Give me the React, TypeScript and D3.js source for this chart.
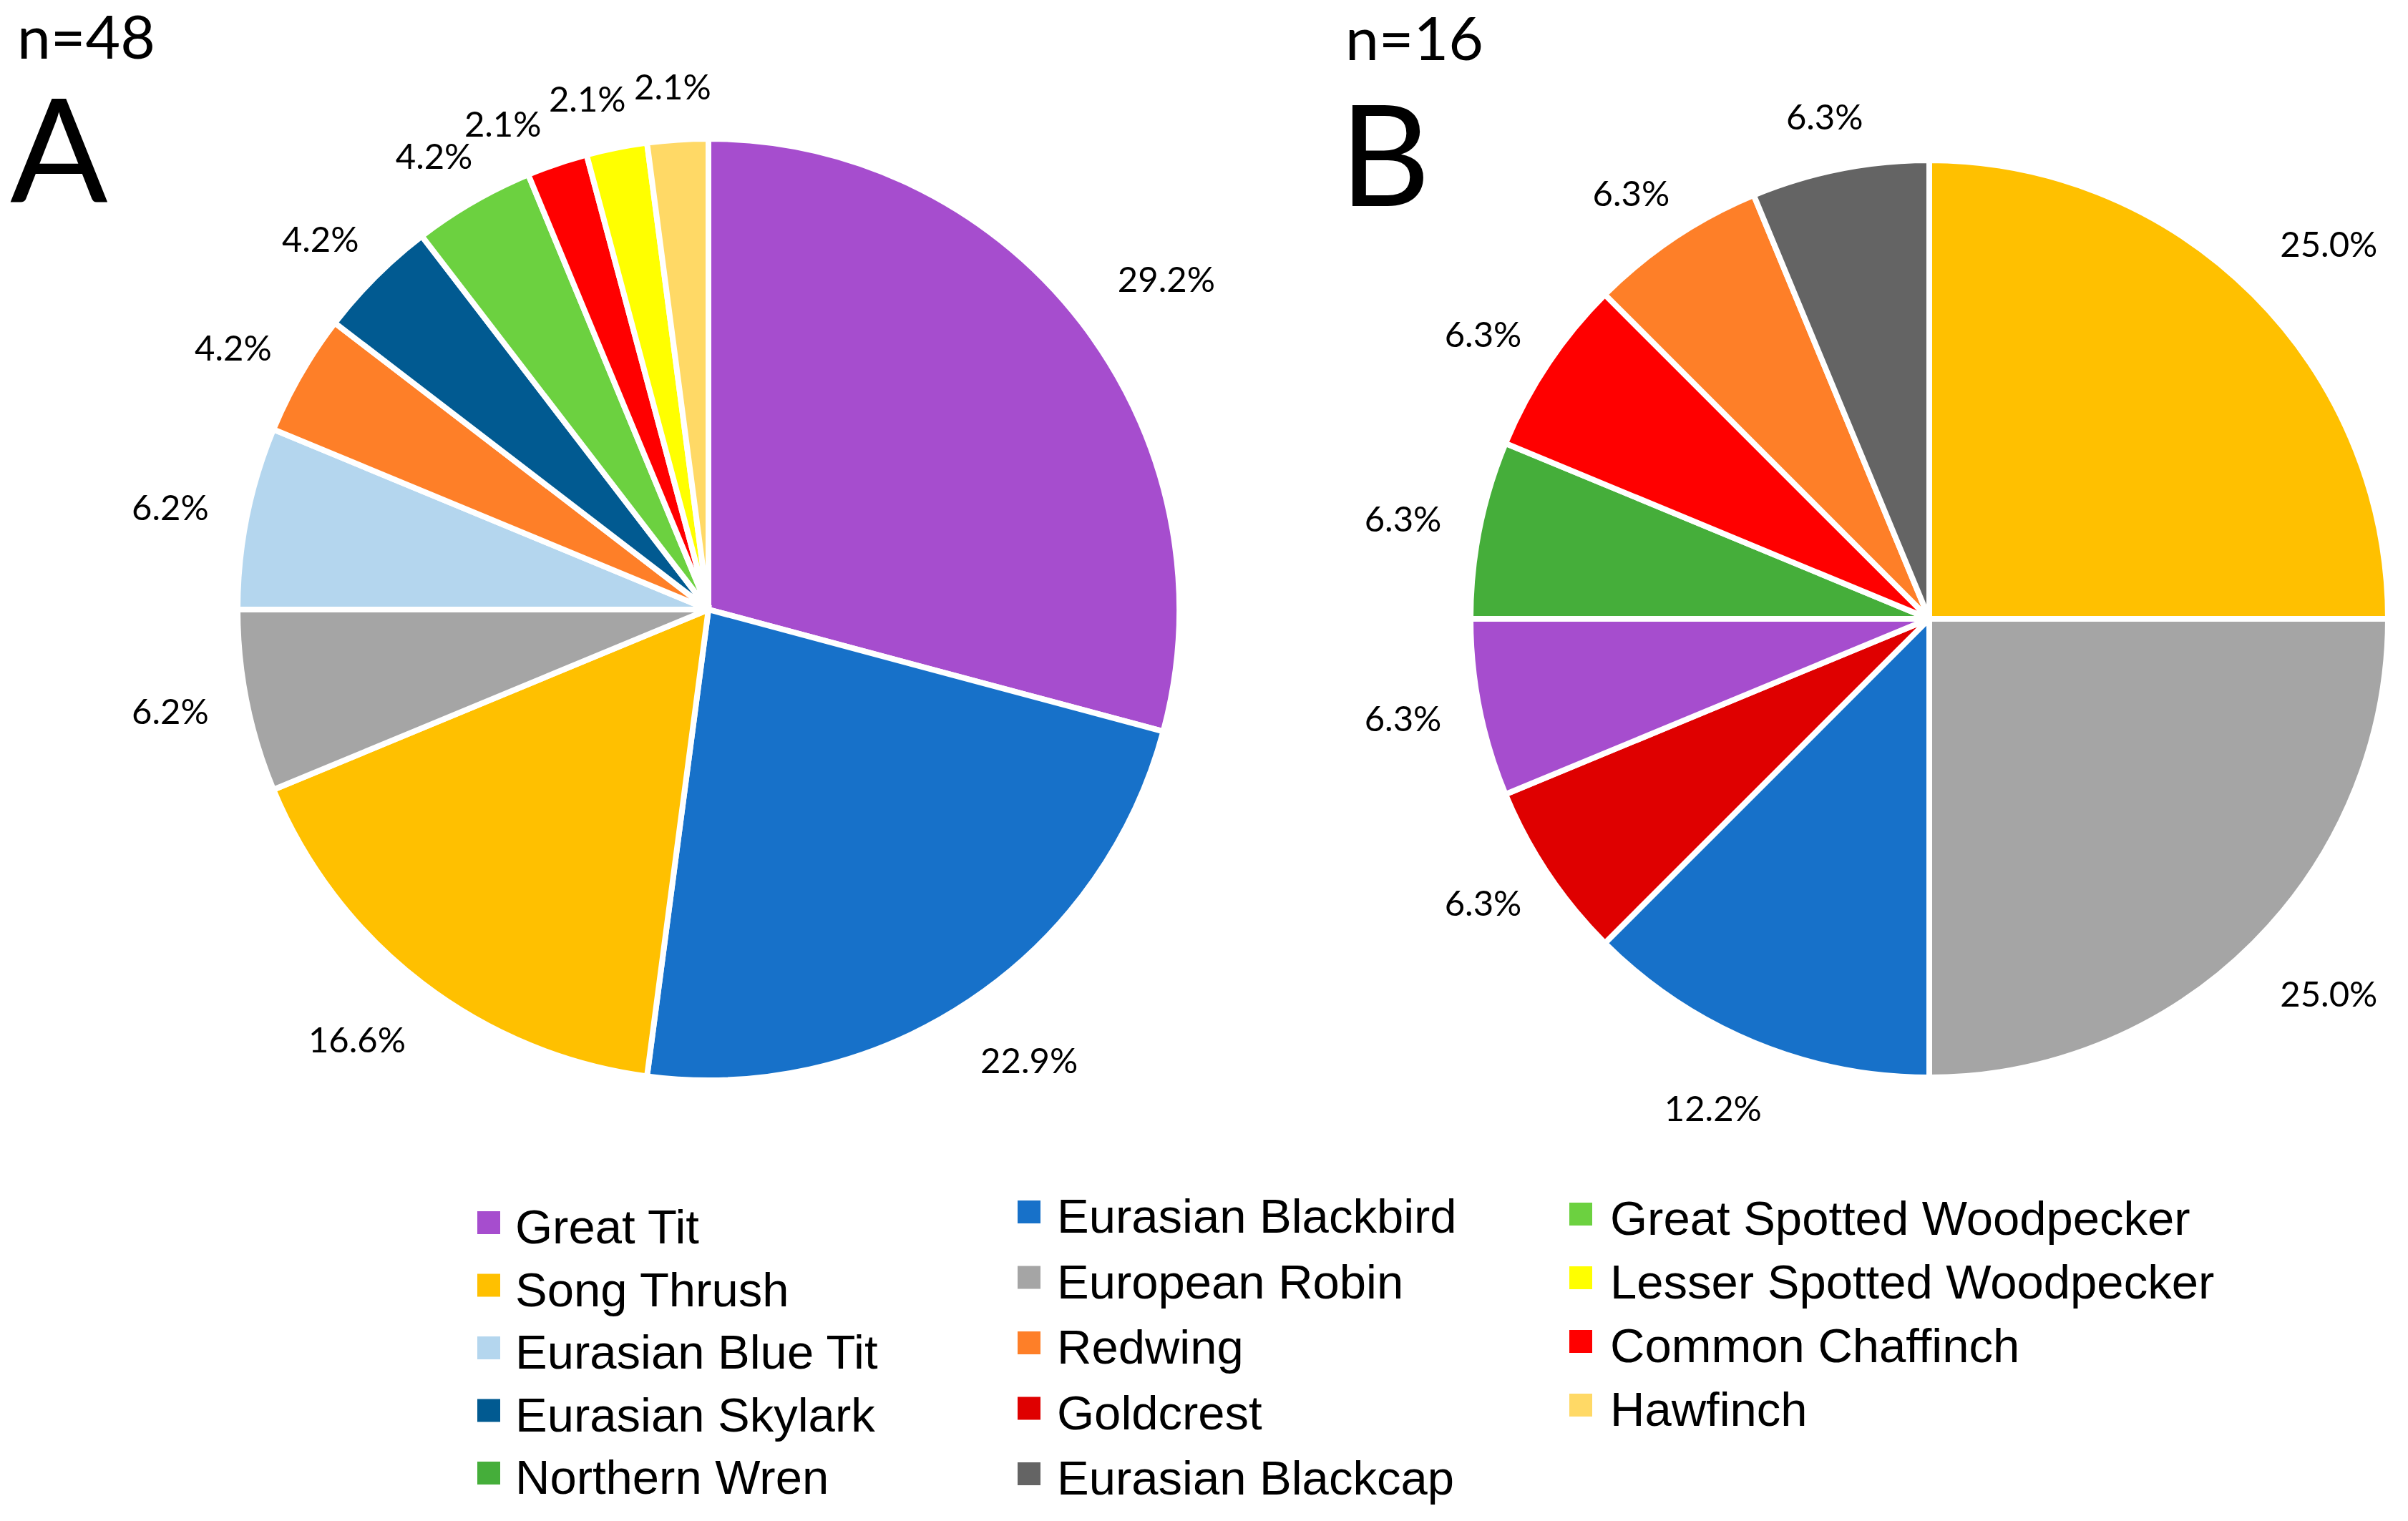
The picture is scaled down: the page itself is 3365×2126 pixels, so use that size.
import React from "react";
import * as d3 from "d3";

// ---- Data ----
const speciesColors: Record<string, string> = {
  "Great Tit": "#A64DCE",
  "Eurasian Blackbird": "#1771C9",
  "Song Thrush": "#FFC000",
  "European Robin": "#A5A5A5",
  "Eurasian Blue Tit": "#B4D6EE",
  "Redwing": "#FE7F28",
  "Eurasian Skylark": "#015A91",
  "Great Spotted Woodpecker": "#6CD140",
  "Common Chaffinch": "#FF0000",
  "Lesser Spotted Woodpecker": "#FFFF00",
  "Hawfinch": "#FFD966",
  "Goldcrest": "#DF0000",
  "Northern Wren": "#45AE3A",
  "Eurasian Blackcap": "#646464",
};

const pieASpecies = [
  "Great Tit",
  "Eurasian Blackbird",
  "Song Thrush",
  "European Robin",
  "Eurasian Blue Tit",
  "Redwing",
  "Eurasian Skylark",
  "Great Spotted Woodpecker",
  "Common Chaffinch",
  "Lesser Spotted Woodpecker",
  "Hawfinch",
];
const pieACounts = [14, 11, 8, 3, 3, 2, 2, 2, 1, 1, 1];
const pieALabels = ["29.2%", "22.9%", "16.6%", "6.2%", "6.2%", "4.2%", "4.2%", "4.2%", "2.1%", "2.1%", "2.1%"];

const pieBSpecies = [
  "Song Thrush",
  "European Robin",
  "Eurasian Blackbird",
  "Goldcrest",
  "Great Tit",
  "Northern Wren",
  "Common Chaffinch",
  "Redwing",
  "Eurasian Blackcap",
];
const pieBCounts = [4, 4, 2, 1, 1, 1, 1, 1, 1];
const pieBLabels = ["25.0%", "25.0%", "12.2%", "6.3%", "6.3%", "6.3%", "6.3%", "6.3%", "6.3%"];

const legendCol1 = ["Great Tit", "Song Thrush", "Eurasian Blue Tit", "Eurasian Skylark", "Northern Wren"];
const legendCol2 = ["Eurasian Blackbird", "European Robin", "Redwing", "Goldcrest", "Eurasian Blackcap"];
const legendCol3 = ["Great Spotted Woodpecker", "Lesser Spotted Woodpecker", "Common Chaffinch", "Hawfinch"];

// ---- Layout ----
const W = 3365;
const H = 2126;
const LABEL_FONT = "Lato, Carlito, Calibri, sans-serif";
const LEGEND_FONT = "'Liberation Sans', Arial, sans-serif";
const LABEL_FS = 49;
const STROKE = 8;

interface PieProps {
  cx: number;
  cy: number;
  r: number;
  species: string[];
  counts: number[];
  labels: string[];
}

interface Placed {
  x: number;
  y: number;
  w: number;
  txt: string;
  key: number;
}

function Pie({ cx, cy, r, species, counts, labels }: PieProps) {
  const idx = d3.range(counts.length);
  const pie = d3
    .pie<number>()
    .sort(null)
    .value((i) => counts[i]);
  const arcs = pie(idx);
  const arc = d3.arc<d3.PieArcDatum<number>>().innerRadius(0).outerRadius(r);
  const rVis = r - STROKE / 2;
  const h = 40;

  const pos = (ang: number, txt: string, w: number) => {
    const ux = Math.sin(ang);
    const uy = -Math.cos(ang);
    const R0 = rVis + 58 + 26 * (txt.length - 4);
    return { x: ux * R0 + ux * (w / 2), y: uy * R0 + uy * (h / 2) };
  };

  // place labels from the last slice backwards, sliding crowded ones counter-clockwise
  const placed: Placed[] = [];
  let prev: Placed | null = null;
  for (let k = arcs.length - 1; k >= 0; k--) {
    const a = arcs[k];
    const txt = labels[a.data];
    const w = txt.length * 0.56 * LABEL_FS;
    let ang = (a.startAngle + a.endAngle) / 2;
    let p = pos(ang, txt, w);
    if (prev) {
      let guard = 0;
      while (
        Math.abs(p.x - prev.x) < (w + prev.w) / 2 + 8 &&
        Math.abs(p.y - prev.y) < h + 2 &&
        guard < 400
      ) {
        ang -= (0.25 * Math.PI) / 180;
        p = pos(ang, txt, w);
        guard++;
      }
    }
    const item = { x: p.x, y: p.y, w, txt, key: a.index };
    placed.push(item);
    prev = item;
  }

  return (
    <g transform={`translate(${cx},${cy})`}>
      {arcs.map((a) => (
        <path
          key={"s" + a.index}
          d={arc(a) || ""}
          fill={speciesColors[species[a.data]]}
          stroke="#FFFFFF"
          strokeWidth={STROKE}
          strokeLinejoin="miter"
        />
      ))}
      {placed.map((p) => (
        <text
          key={"l" + p.key}
          x={p.x}
          y={p.y + 0.36 * LABEL_FS}
          textAnchor="middle"
          fontFamily={LABEL_FONT}
          fontSize={LABEL_FS}
          fill="#000"
        >
          {p.txt}
        </text>
      ))}
    </g>
  );
}

interface LegendColProps {
  items: string[];
  sqX: number;
  textX: number;
  y0: number;
  step: number;
}

function LegendCol({ items, sqX, textX, y0, step }: LegendColProps) {
  const y = d3.scaleLinear().domain([0, 1]).range([y0, y0 + step]);
  return (
    <g>
      {items.map((name, i) => (
        <g key={name}>
          <rect x={sqX} y={y(i) - 45} width={32} height={32} fill={speciesColors[name]} />
          <text x={textX} y={y(i)} fontFamily={LEGEND_FONT} fontSize={67} fill="#000">
            {name}
          </text>
        </g>
      ))}
    </g>
  );
}

export default function App() {
  return (
    <svg
      width={W}
      height={H}
      viewBox={`0 0 ${W} ${H}`}
      style={{ position: "absolute", left: 0, top: 0, background: "#FFFFFF", display: "block" }}
    >
      <rect x={0} y={0} width={W} height={H} fill="#FFFFFF" />
      {/* Panel A */}
      <text x={24} y={82} fontFamily={LABEL_FONT} fontSize={84} fill="#000">
        n=48
      </text>
      <text x={14} y={283} fontFamily={LABEL_FONT} fontSize={202} fill="#000">
        A
      </text>
      <Pie cx={990} cy={852} r={658} species={pieASpecies} counts={pieACounts} labels={pieALabels} />

      {/* Panel B */}
      <text x={1880} y={84} fontFamily={LABEL_FONT} fontSize={84} fill="#000">
        n=16
      </text>
      <text x={1872} y={288} fontFamily={LABEL_FONT} fontSize={196} fill="#000">
        B
      </text>
      <Pie cx={2696} cy={865} r={641} species={pieBSpecies} counts={pieBCounts} labels={pieBLabels} />

      {/* Legend */}
      <LegendCol items={legendCol1} sqX={667} textX={720} y0={1738} step={87.5} />
      <LegendCol items={legendCol2} sqX={1422} textX={1477} y0={1723} step={91.5} />
      <LegendCol items={legendCol3} sqX={2193} textX={2250} y0={1726} step={89} />
    </svg>
  );
}
